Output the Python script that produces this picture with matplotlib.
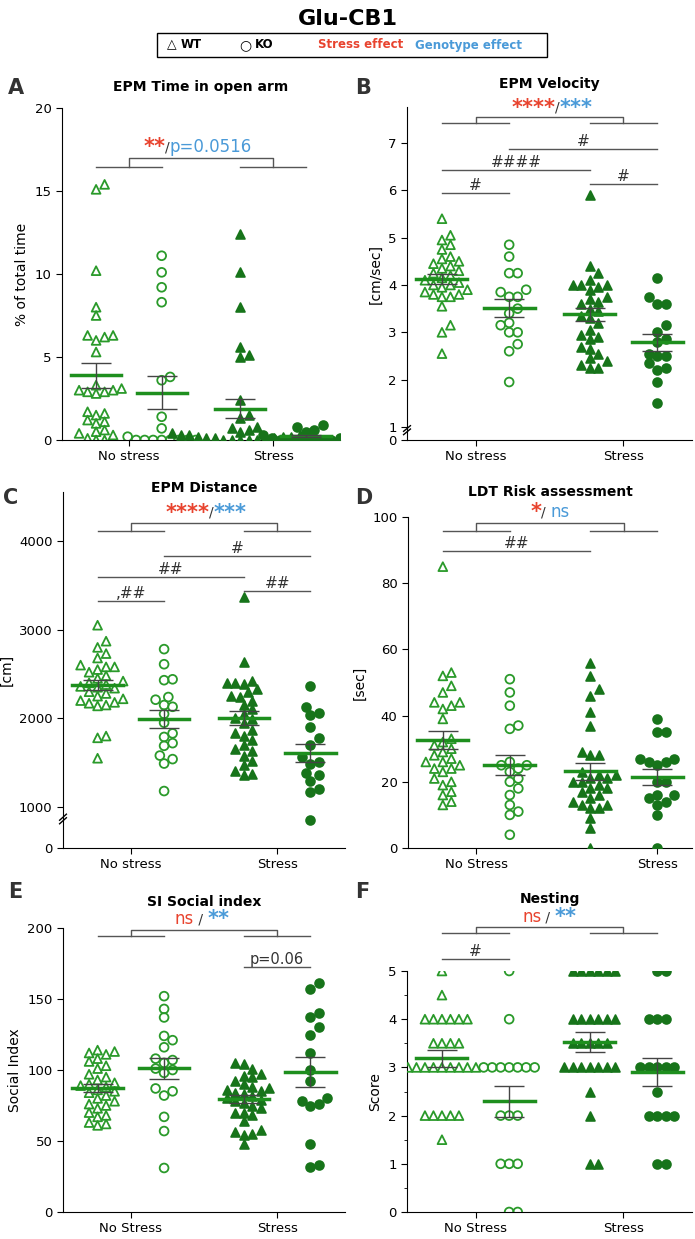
import numpy as np
import matplotlib
matplotlib.use("Agg")
import matplotlib.pyplot as plt
from matplotlib.patches import Rectangle

# ---- data ----
groups = ["WT NS", "KO NS", "WT S", "KO S"]

epm_time_wt_ns = [15.1, 15.4, 10.2, 8.0, 7.5, 6.3, 6.2, 6.0, 6.3, 5.3, 3.3, 3.1, 3.0, 2.9, 2.8,
                  3.0, 2.9, 1.7, 1.5, 1.6, 1.2, 1.1, 1.0, 0.5, 0.4, 0.3, 0.1, 0.0, 0.0, 0.6]
epm_time_ko_ns = [11.1, 10.1, 9.2, 8.3, 3.8, 3.6, 1.4, 0.7, 0.2, 0, 0, 0, 0, 0, 0, 0, 0]
epm_time_wt_s = [12.4, 10.1, 8.0, 5.6, 5.0, 5.1, 2.4, 1.5, 1.3, 0.8, 0.7, 0.6, 0.5, 0.4, 0.3,
                 0.3, 0.2, 0.2, 0.1, 0.1, 0.1, 0, 0, 0, 0, 0, 0.3, 0.4, 0.2, 0.1]
epm_time_ko_s = [0.9, 0.8, 0.6, 0.5, 0.4, 0.3, 0.2, 0.1, 0.1, 0, 0, 0, 0, 0, 0, 0]

vel_wt_ns = [5.4, 5.05, 4.95, 4.85, 4.75, 4.6, 4.55, 4.5, 4.45, 4.4, 4.35, 4.25, 4.2, 4.15, 4.1,
             4.05, 4.0, 3.95, 3.9, 3.85, 3.8, 3.8, 3.75, 3.75, 3.55, 3.15, 3.0, 2.55, 4.3, 4.0]
vel_ko_ns = [4.85, 4.6, 4.25, 4.25, 3.9, 3.85, 3.75, 3.75, 3.5, 3.4, 3.2, 3.15, 3.0, 3.0, 2.75, 2.6, 1.95]
vel_wt_s = [5.9, 4.4, 4.25, 4.1, 4.0, 4.0, 4.0, 3.95, 3.9, 3.75, 3.7, 3.65, 3.6, 3.5, 3.45,
            3.35, 3.3, 3.2, 3.05, 2.95, 2.9, 2.85, 2.7, 2.65, 2.55, 2.45, 2.4, 2.3, 2.25, 2.25]
vel_ko_s = [4.15, 3.75, 3.6, 3.6, 3.15, 3.0, 2.8, 2.55, 2.5, 2.5, 2.35, 2.25, 2.2, 1.95, 1.5, 2.85]

dist_wt_ns = [3050, 2870, 2800, 2730, 2680, 2600, 2580, 2580, 2550, 2520, 2480, 2450, 2420, 2400, 2380,
              2360, 2340, 2300, 2280, 2250, 2220, 2200, 2180, 2170, 2150, 2140, 1800, 1780, 1550, 2350]
dist_ko_ns = [2780, 2610, 2440, 2430, 2240, 2210, 2150, 2130, 2050, 1950, 1830, 1790, 1720, 1690,
              1580, 1540, 1490, 1180]
dist_wt_s = [3370, 2630, 2420, 2400, 2400, 2390, 2330, 2300, 2240, 2250, 2200, 2150, 2100, 2050, 2000,
             1990, 1950, 1870, 1840, 1800, 1750, 1700, 1650, 1630, 1570, 1520, 1470, 1410, 1370, 1360]
dist_ko_s = [2360, 2130, 2060, 2040, 1900, 1780, 1700, 1560, 1510, 1490, 1380, 1360, 1290, 1200, 1170, 850]

risk_wt_ns = [85, 53, 52, 49, 47, 44, 44, 43, 42, 39, 33, 32, 31, 30, 29, 28, 27, 26, 26, 25,
              24, 24, 23, 21, 20, 19, 17, 16, 13, 14]
risk_ko_ns = [51, 47, 43, 37, 36, 26, 25, 24, 25, 23, 21, 20, 18, 16, 13, 11, 10, 4]
risk_wt_s = [56, 52, 48, 46, 41, 37, 29, 28, 28, 23, 22, 22, 21, 21, 20, 20, 19, 18, 18, 17,
             16, 15, 14, 13, 13, 12, 12, 9, 6, 0]
risk_ko_s = [39, 35, 35, 27, 26, 26, 25, 20, 20, 16, 16, 15, 14, 13, 10, 0, 27]

si_wt_ns = [114, 113, 112, 111, 108, 106, 103, 101, 97, 95, 93, 91, 90, 89, 88, 86, 85, 84, 82, 80,
            78, 76, 75, 73, 70, 68, 67, 63, 61, 62]
si_ko_ns = [152, 143, 137, 124, 121, 116, 108, 107, 105, 101, 98, 87, 85, 82, 67, 57, 31, 100]
si_wt_s = [105, 104, 101, 97, 96, 95, 92, 90, 88, 87, 86, 85, 84, 83, 82, 80, 79, 78, 77, 75,
           73, 70, 70, 64, 58, 56, 55, 54, 48, 68]
si_ko_s = [161, 157, 140, 137, 130, 125, 112, 100, 92, 80, 78, 76, 75, 48, 33, 32]

nest_wt_ns = [5, 4.5] + [4] * 6 + [3.5] * 4 + [3] * 9 + [2] * 5 + [1.5]
nest_ko_ns = [5, 4] + [3] * 7 + [2] * 3 + [1] * 3 + [0] * 2
nest_wt_s = [5] * 6 + [4] * 6 + [3.5] * 5 + [3] * 7 + [2.5, 2, 1, 1]
nest_ko_s = [5] * 2 + [4] * 3 + [3] * 5 + [2.5] + [2] * 4 + [1] * 2

GREEN = "#2a9a2a"
DARK = "#17741a"
MEAN = "#1e8f1e"
RED = "#e8432e"
BLUE = "#4a9ad8"
GRAY = "#555555"
POS = [0, 1, 2.2, 3.2]

W, H = 695, 1239
fig = plt.figure(figsize=(W / 100, H / 100), dpi=100)


def make_ax(l, r, t, b):
    return fig.add_axes([l / W, 1 - b / H, (r - l) / W, (b - t) / H])


def swarm(ax, x0, vals, d=8.5):
    vals = np.asarray(vals, float)
    pts = ax.transData.transform(np.c_[np.full(len(vals), x0), vals])
    order = np.argsort(vals)
    placed = []
    xs = np.zeros(len(vals))
    for i in order:
        px, py = pts[i]
        k = 0
        while True:
            cands = [0.0] if k == 0 else [k * d * 0.5, -k * d * 0.5]
            ok = None
            for c in cands:
                if all((c - qx) ** 2 + (py - qy) ** 2 >= d * d * 0.95 for qx, qy in placed):
                    ok = c
                    break
            if ok is not None:
                placed.append((ok, py))
                xs[i] = ok
                break
            k += 1
    inv = ax.transData.inverted()
    return inv.transform(np.c_[pts[:, 0] + xs, pts[:, 1]])[:, 0]


def draw_groups(ax, data):
    styles = [("^", "none", GREEN), ("o", "none", GREEN), ("^", DARK, DARK), ("o", DARK, DARK)]
    for x0, vals, (m, fc, ec) in zip(POS, data, styles):
        xs = swarm(ax, x0, vals)
        ax.scatter(xs, vals, marker=m, s=40, facecolors=fc, edgecolors=ec, linewidths=1.3, zorder=3)
        mu = np.mean(vals)
        se = np.std(vals, ddof=1) / np.sqrt(len(vals))
        ax.plot([x0 - 0.38, x0 + 0.38], [mu, mu], color=MEAN, lw=2.5, zorder=4)
        ax.errorbar([x0], [mu], yerr=[se], color="#444444", lw=1, capsize=11, capthick=1, zorder=4)


def style_ax(ax, ylab, xticks=(0.5, 2.7), xlabels=("No stress", "Stress")):
    for s in ("top", "right"):
        ax.spines[s].set_visible(False)
    ax.set_xlim(-0.52, 3.72)
    ax.set_xticks(xticks)
    ax.set_xticklabels(xlabels, fontsize=10.5)
    ax.tick_params(axis="both", labelsize=9.5, length=4)
    ax.set_ylabel(ylab, fontsize=10)


def main_bracket(ax, ylo, yhi, parts, tx, ty):
    kw = dict(color=GRAY, lw=1, clip_on=False)
    ax.plot([POS[0], POS[1]], [ylo, ylo], **kw)
    ax.plot([POS[2], POS[3]], [ylo, ylo], **kw)
    ax.plot([0.5, 0.5, 2.7, 2.7], [ylo, yhi, yhi, ylo], **kw)
    r = fig.canvas.get_renderer()
    texts = []
    for s, c, fs in parts:
        t = ax.text(0, ty, s, color=c, fontsize=fs, ha="left", va="center", clip_on=False,
                    fontweight="bold" if "*" in s else "normal")
        texts.append(t)
    inv = ax.transData.inverted()
    widths = [inv.transform((t.get_window_extent(r).width, 0))[0] - inv.transform((0, 0))[0] for t in texts]
    x = tx - sum(widths) / 2
    for t, w in zip(texts, widths):
        t.set_x(x)
        x += w


def hash_line(ax, x1, x2, y, label, fs=11):
    ax.plot([x1, x2], [y, y], color=GRAY, lw=1, clip_on=False)
    ax.text((x1 + x2) / 2, y, label, ha="center", va="bottom", fontsize=fs, color="#333333", clip_on=False)


def axis_break(ax, yfrac=0.03):
    kw = dict(transform=ax.transAxes, color="black", lw=1, clip_on=False)
    ax.plot([-0.012, 0.012], [yfrac - 0.012, yfrac + 0.005], **kw)
    ax.plot([-0.012, 0.012], [yfrac - 0.002, yfrac + 0.015], **kw)


# ---- A ----
axA = make_ax(62, 340, 108, 440)
axA.set_ylim(0, 20)
axA.set_yticks([0, 5, 10, 15, 20])
style_ax(axA, "% of total time")
draw_groups(axA, [epm_time_wt_ns, epm_time_ko_ns, epm_time_wt_s, epm_time_ko_s])
main_bracket(axA, 16.45, 17.0, [("**", RED, 15), ("/", "#333333", 10), ("p=0.0516", BLUE, 12)], 1.55, 17.65)
axA.set_title("EPM Time in open arm", fontsize=10, fontweight="bold", pad=12)

# ---- B ----
axB = make_ax(407, 692, 107, 440)
b0 = 1 - 13 / 47.3
axB.set_ylim(b0, 7.76)
axB.set_yticks([b0, 1, 2, 3, 4, 5, 6, 7])
axB.set_yticklabels(["0", "1", "2", "3", "4", "5", "6", "7"])
style_ax(axB, "[cm/sec]")
axis_break(axB, 0.028)
draw_groups(axB, [vel_wt_ns, vel_ko_ns, vel_wt_s, vel_ko_s])
main_bracket(axB, 7.42, 7.55, [("****", RED, 15), ("/", "#333333", 10), ("***", BLUE, 15)], 1.64, 7.74)
hash_line(axB, POS[1], POS[3], 6.87, "#")
hash_line(axB, POS[0], POS[2], 6.43, "####")
hash_line(axB, POS[0], POS[1], 5.94, "#")
hash_line(axB, POS[2], POS[3], 6.13, "#")
axB.set_title("EPM Velocity", fontsize=10, fontweight="bold", pad=14)

# ---- C ----
axC = make_ax(63, 345, 492, 848)
c0 = 1000 - 41 / 0.0887
axC.set_ylim(c0, 4552)
axC.set_yticks([c0, 1000, 2000, 3000, 4000])
axC.set_yticklabels(["0", "1000", "2000", "3000", "4000"])
style_ax(axC, "[cm]")
axis_break(axC, 0.08)
draw_groups(axC, [dist_wt_ns, dist_ko_ns, dist_wt_s, dist_ko_s])
main_bracket(axC, 4113, 4200, [("****", RED, 15), ("/", "#333333", 10), ("***", BLUE, 15)], 1.63, 4316)
hash_line(axC, POS[1], POS[3], 3830, "#")
hash_line(axC, POS[0], POS[2], 3594, "##")
hash_line(axC, POS[0], POS[1], 3323, ",##")
hash_line(axC, POS[2], POS[3], 3436, "##")
axC.set_title("EPM Distance", fontsize=10, fontweight="bold", pad=0, y=1.0)

# ---- D ----
axD = make_ax(408, 692, 517, 848)
axD.set_ylim(0, 100)
axD.set_yticks([0, 20, 40, 60, 80, 100])
style_ax(axD, "[sec]", xticks=(0.5, 3.2), xlabels=("No Stress", "Stress"))
draw_groups(axD, [risk_wt_ns, risk_ko_ns, risk_wt_s, risk_ko_s])
main_bracket(axD, 95.8, 98.2, [("*", RED, 15), ("/ ", "#333333", 10), ("ns", BLUE, 12)], 1.6, 101.4)
hash_line(axD, POS[0], POS[2], 89.7, "##")
axD.set_title("LDT Risk assessment", fontsize=10, fontweight="bold", pad=15)

# ---- E ----
axE = make_ax(63, 345, 928, 1212)
axE.set_ylim(0, 200)
axE.set_yticks([0, 50, 100, 150, 200])
style_ax(axE, "Social Index", xlabels=("No Stress", "Stress"))
draw_groups(axE, [si_wt_ns, si_ko_ns, si_wt_s, si_ko_s])
main_bracket(axE, 194.4, 198.6, [("ns", RED, 12), (" / ", "#333333", 10), ("**", BLUE, 15)], 1.57, 206)
hash_line(axE, POS[2], POS[3], 172.5, "p=0.06", fs=10.5)
axE.set_title("SI Social index", fontsize=10, fontweight="bold", pad=16)

# ---- F ----
axF = make_ax(407, 692, 971, 1212)
axF.set_ylim(0, 5)
axF.set_yticks([0, 1, 2, 3, 4, 5])
axF.set_yticks(np.arange(0.5, 5, 1), minor=True)
style_ax(axF, "Score", xlabels=("No Stress", "Stress"))
axF.spines["left"].set_bounds(0, 5)
draw_groups(axF, [nest_wt_ns, nest_ko_ns, nest_wt_s, nest_ko_s])
main_bracket(axF, 5.79, 5.91, [("ns", RED, 12), (" / ", "#333333", 10), ("**", BLUE, 15)], 1.6, 6.12)
hash_line(axF, POS[0], POS[1], 5.25, "#")
axF.text(1.6, 6.35, "Nesting", ha="center", va="bottom", fontsize=10, fontweight="bold", clip_on=False)

# panel letters
for lab, x, y in [("A", 8, 88), ("B", 355, 88), ("C", 3, 498), ("D", 355, 498), ("E", 8, 892), ("F", 355, 892)]:
    fig.text(x / W, 1 - y / H, lab, fontsize=15, fontweight="bold", color="#333333", va="center")

# title and legend
fig.text(0.5, 1 - 19 / H, "Glu-CB1", ha="center", va="center", fontsize=16, fontweight="bold")
fig.add_artist(Rectangle((157 / W, 1 - 57 / H), 390 / W, 24 / H, transform=fig.transFigure,
                         fill=False, edgecolor="black", lw=1))
ly = 1 - 45 / H
fig.text(172 / W, ly, "△", ha="center", va="center", fontsize=9)
fig.text(181 / W, ly, "WT", va="center", fontsize=8.5, fontweight="bold")
fig.text(245 / W, ly, "○", ha="center", va="center", fontsize=10)
fig.text(255 / W, ly, "KO", va="center", fontsize=8.5, fontweight="bold")
fig.text(318 / W, ly, "Stress effect", va="center", fontsize=8.5, fontweight="bold", color=RED)
fig.text(415 / W, ly, "Genotype effect", va="center", fontsize=8.5, fontweight="bold", color=BLUE)

fig.savefig("out.png", dpi=100)
